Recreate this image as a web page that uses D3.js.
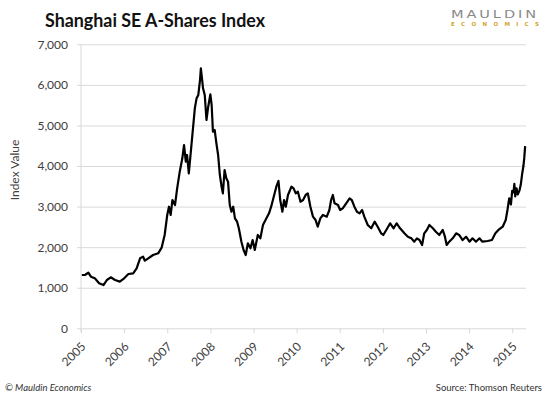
<!DOCTYPE html>
<html>
<head>
<meta charset="utf-8">
<script src="https://cdn.jsdelivr.net/npm/d3@7/dist/d3.min.js"></script>
<style>
    body { margin: 0; background: #fff; }
    svg { display: block; font-family: Lato, "Open Sans", sans-serif; }
</style>
</head>
<body>
<svg id="chart" width="550" height="399"></svg>
<script>
// Chart values.
var yearTicks = [2005, 2006, 2007, 2008, 2009, 2010, 2011, 2012, 2013, 2014, 2015];
var valueTicks = [0, 1000, 2000, 3000, 4000, 5000, 6000, 7000];

// Time as decimal years, index level.
var times = [
    2005.02, 2005.09, 2005.17, 2005.23, 2005.32, 2005.42, 2005.52, 2005.60, 2005.69, 2005.79, 2005.90,
    2006.00, 2006.10, 2006.21, 2006.29, 2006.37, 2006.44, 2006.48, 2006.56, 2006.67, 2006.79, 2006.87, 2006.94,
    2007.00, 2007.04, 2007.08, 2007.12, 2007.18, 2007.23, 2007.29, 2007.35, 2007.39, 2007.43, 2007.46, 2007.50,
    2007.54, 2007.59, 2007.64, 2007.68, 2007.72, 2007.76, 2007.78, 2007.81, 2007.83, 2007.87, 2007.91, 2007.95,
    2008.00, 2008.03, 2008.06, 2008.10, 2008.14, 2008.18, 2008.22, 2008.26, 2008.29, 2008.33, 2008.37, 2008.41,
    2008.45, 2008.49, 2008.53, 2008.57, 2008.62, 2008.66, 2008.72, 2008.77, 2008.82, 2008.87, 2008.93, 2008.98,
    2009.03, 2009.10, 2009.16, 2009.22, 2009.30, 2009.36, 2009.41, 2009.47, 2009.53, 2009.58, 2009.62, 2009.67,
    2009.71, 2009.75, 2009.80, 2009.88, 2009.93, 2009.98,
    2010.03, 2010.09, 2010.15, 2010.21, 2010.26, 2010.32, 2010.38, 2010.44, 2010.49, 2010.55, 2010.61, 2010.70,
    2010.76, 2010.80, 2010.84, 2010.88, 2010.96,
    2011.01, 2011.07, 2011.15, 2011.23, 2011.28, 2011.34, 2011.40, 2011.46, 2011.52, 2011.57, 2011.65, 2011.73,
    2011.81, 2011.88, 2011.96,
    2012.01, 2012.08, 2012.17, 2012.25, 2012.32, 2012.40, 2012.50, 2012.58, 2012.66, 2012.73, 2012.79, 2012.85,
    2012.91, 2012.96,
    2013.02, 2013.08, 2013.16, 2013.23, 2013.31, 2013.39, 2013.44, 2013.48, 2013.54, 2013.62, 2013.70, 2013.77,
    2013.85, 2013.93,
    2014.01, 2014.08, 2014.16, 2014.24, 2014.31, 2014.43, 2014.53, 2014.61, 2014.68, 2014.78, 2014.85, 2014.89,
    2014.93, 2014.97,
    2015.00, 2015.03, 2015.05, 2015.07, 2015.10, 2015.13, 2015.17, 2015.20, 2015.23, 2015.26, 2015.28, 2015.30
];
var index = [
    1314, 1314, 1370, 1272, 1232, 1110, 1067, 1190, 1257, 1190, 1150,
    1232, 1338, 1355, 1479, 1725, 1766, 1666, 1725, 1807, 1848, 1987, 2300,
    2793, 2997, 2793, 3162, 3039, 3450, 3860, 4190, 4518, 4107, 4272, 3820,
    4272, 4846, 5420, 5667, 5748, 6120, 6409, 6120, 5916, 5750, 5134, 5462,
    5768, 5504, 4846, 4888, 4560, 4272, 3779, 3490, 3327, 3902, 3697, 3614,
    3039, 2873, 2997, 2711, 2628, 2465, 2135, 1930, 1807, 2095, 1972, 2176,
    1930, 2300, 2218, 2546, 2711, 2834, 2997, 3244, 3490, 3631, 3162, 2873,
    3162, 2997, 3286, 3490, 3450, 3327,
    3367, 3120, 3162, 3286, 3327, 2997, 2751, 2669, 2504, 2711, 2793, 2751,
    2916, 3162, 3286, 3081, 3039,
    2916, 2957, 3081, 3204, 3162, 2997, 2873, 2834, 2916, 2751, 2546, 2465,
    2628, 2504, 2341,
    2300, 2423, 2588, 2465, 2588, 2465, 2341, 2258, 2218, 2135, 2218, 2176,
    2053, 2341,
    2423, 2546, 2465, 2381, 2300, 2423, 2258, 2053, 2135, 2218, 2341, 2300,
    2176, 2258,
    2135, 2218, 2135, 2218, 2135, 2152, 2176, 2341, 2423, 2504, 2669, 2916,
    3204, 3050,
    3387, 3350, 3560, 3250, 3450, 3300, 3400, 3550, 3800, 4000, 4200, 4490
];

var svg = d3.select("#chart");

// Plot area edges.
var plotLeft = 81, plotRight = 526, plotTop = 44.3, plotBottom = 328.3;

var x = d3.scaleLinear().domain([2005, 2015.32]).range([plotLeft, plotRight]);
var y = d3.scaleLinear().domain([0, 7000]).range([plotBottom, plotTop]);

// Gridlines (with the short ticks left of the axis).
var grid = svg.append("g")
    .attr("transform", "translate(" + (plotLeft - 4) + ",0)")
    .call(d3.axisRight(y).tickValues(valueTicks).tickSize(plotRight - plotLeft + 4).tickFormat(""));
grid.select(".domain").remove();
grid.selectAll("line").attr("stroke", "#d9d9d9");

// Vertical axis line.
svg.append("line")
    .attr("x1", plotLeft).attr("x2", plotLeft)
    .attr("y1", plotTop).attr("y2", plotBottom + 4)
    .attr("stroke", "#d9d9d9");

// Y tick labels.
var yAxis = svg.append("g")
    .attr("transform", "translate(" + plotLeft + ",0)")
    .call(d3.axisLeft(y).tickValues(valueTicks).tickSize(0).tickPadding(13).tickFormat(d3.format(",")));
yAxis.select(".domain").remove();
yAxis.selectAll("text")
    .attr("fill", "#404040")
    .style("font-size", "12px")
    .style("font-family", "Lato, sans-serif");

// X ticks and rotated year labels.
var xAxis = svg.append("g")
    .attr("transform", "translate(0," + plotBottom + ")")
    .call(d3.axisBottom(x).tickValues(yearTicks).tickSize(5).tickFormat(d3.format("d")));
xAxis.select(".domain").remove();
xAxis.selectAll("line").attr("stroke", "#d9d9d9");
xAxis.selectAll("text")
    .attr("fill", "#404040")
    .style("font-size", "12px")
    .style("font-family", "Lato, sans-serif")
    .attr("text-anchor", "end")
    .attr("dy", null)
    .attr("y", 0)
    .attr("transform", "translate(5,19) rotate(-45)");

// Index line.
var points = times.map(function(t, i) { return [t, index[i]]; });
svg.append("path")
    .datum(points)
    .attr("fill", "none")
    .attr("stroke", "#000")
    .attr("stroke-width", 2.2)
    .attr("stroke-linejoin", "round")
    .attr("d", d3.line()
        .x(function(d) { return x(d[0]); })
        .y(function(d) { return y(d[1]); }));

// Axis title.
svg.append("text")
    .attr("transform", "translate(19,170) rotate(-90)")
    .attr("text-anchor", "middle")
    .attr("fill", "#404040")
    .style("font-size", "12px")
    .text("Index Value");

// Chart title.
svg.append("text")
    .attr("x", 45).attr("y", 27)
    .attr("textLength", 220)
    .attr("lengthAdjust", "spacingAndGlyphs")
    .attr("fill", "#111")
    .style("font-size", "19px")
    .style("font-weight", 700)
    .text("Shanghai SE A-Shares Index");

// Logo.
svg.append("text")
    .attr("x", 451).attr("y", 18)
    .attr("textLength", 88)
    .attr("lengthAdjust", "spacingAndGlyphs")
    .attr("fill", "#8a8a8a")
    .style("font-size", "10px")
    .style("font-family", "'DejaVu Sans', sans-serif")
    .style("letter-spacing", "2px")
    .text("MAULDIN");
svg.append("text")
    .attr("x", 451).attr("y", 25.5)
    .attr("textLength", 88)
    .attr("lengthAdjust", "spacing")
    .attr("fill", "#d1a52a")
    .style("font-size", "5.5px")
    .style("font-weight", 700)
    .style("font-family", "'DejaVu Sans', sans-serif")
    .text("ECONOMICS");

// Footer.
svg.append("text")
    .attr("x", 5).attr("y", 391)
    .attr("fill", "#333")
    .style("font-size", "9.5px")
    .style("font-style", "italic")
    .text("\u00a9 Mauldin Economics");
svg.append("text")
    .attr("x", 542).attr("y", 391)
    .attr("text-anchor", "end")
    .attr("fill", "#333")
    .style("font-size", "9.5px")
    .text("Source: Thomson Reuters");
</script>
</body>
</html>
